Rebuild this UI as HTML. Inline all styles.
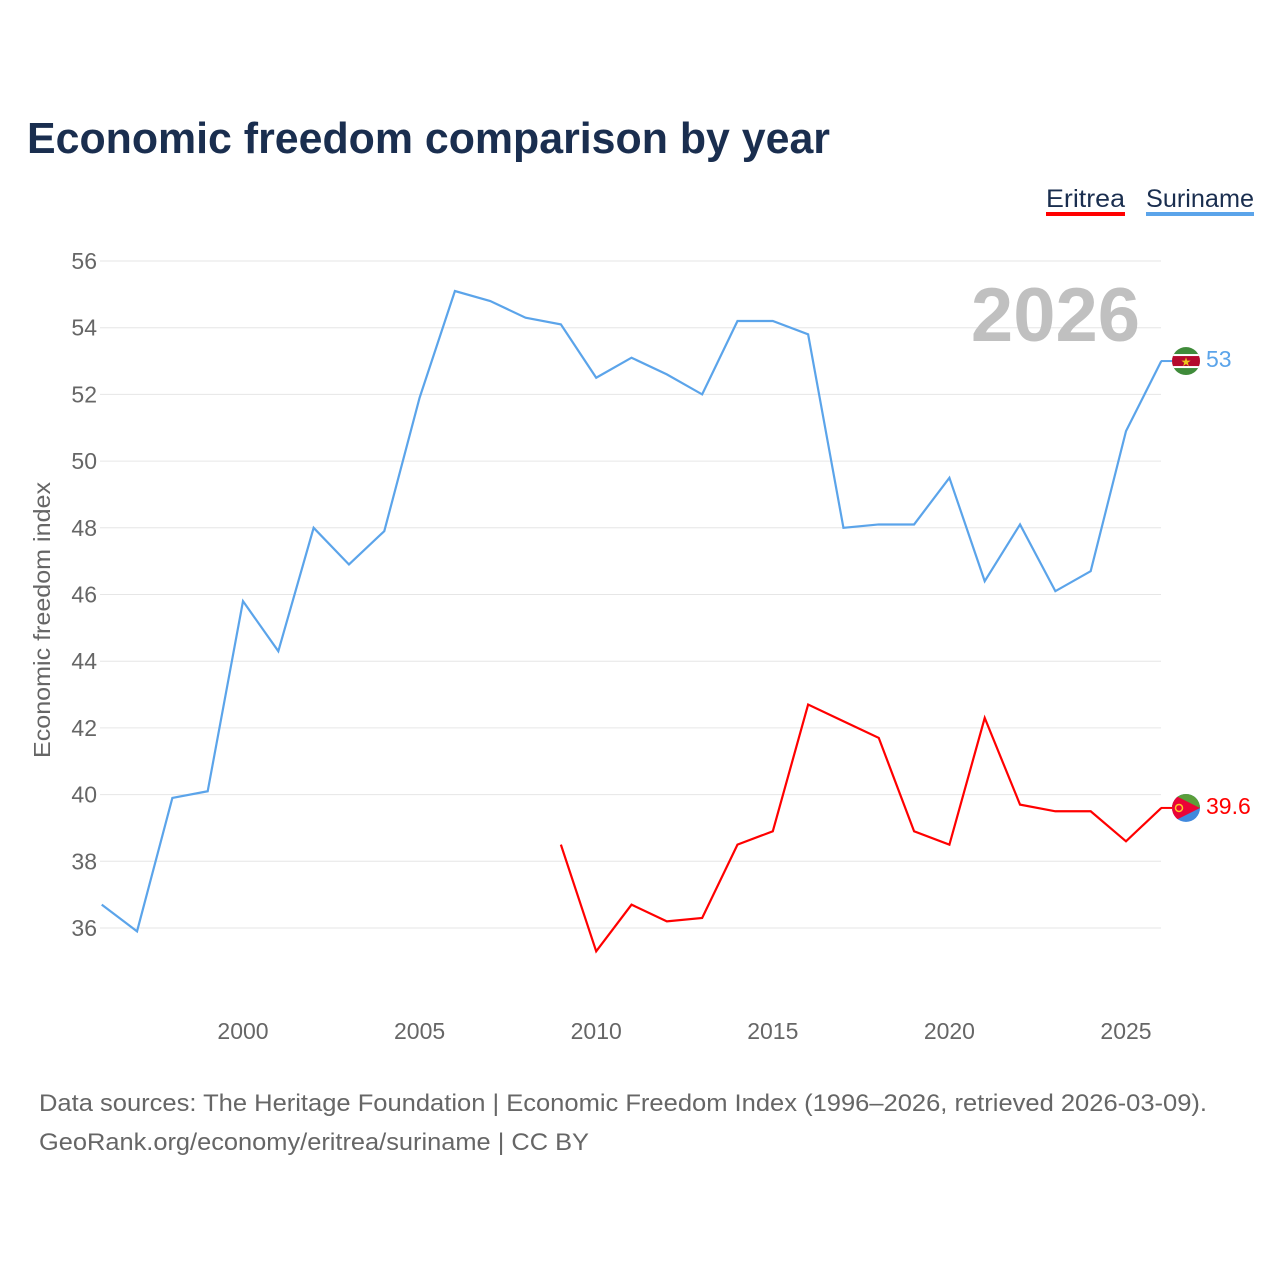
<!DOCTYPE html>
<html><head><meta charset="utf-8"><style>
body{margin:0;background:#fff;font-family:"Liberation Sans",sans-serif}
#wrap{position:relative;width:1280px;height:1280px}
</style></head><body>
<div id="wrap">
<svg id="chart" width="1280" height="1280"></svg>
</div>
<script>
const years=[1996,1997,1998,1999,2000,2001,2002,2003,2004,2005,2006,2007,2008,2009,2010,2011,2012,2013,2014,2015,2016,2017,2018,2019,2020,2021,2022,2023,2024,2025,2026];
const suriname=[36.7,35.9,39.9,40.1,45.8,44.3,48.0,46.9,47.9,51.9,55.1,54.8,54.3,54.1,52.5,53.1,52.6,52.0,54.2,54.2,53.8,48.0,48.1,48.1,49.5,46.4,48.1,46.1,46.7,50.9,53.0];
const eritreaYears=[2009,2010,2011,2012,2013,2014,2015,2016,2017,2018,2019,2020,2021,2022,2023,2024,2025,2026];
const eritrea=[38.5,35.3,36.7,36.2,36.3,38.5,38.9,42.7,42.2,41.7,38.9,38.5,42.3,39.7,39.5,39.5,38.6,39.6];
const yTicks=[36,38,40,42,44,46,48,50,52,54,56];
const xTicks=[2000,2005,2010,2015,2020,2025];

const NS="http://www.w3.org/2000/svg";
const svg=document.getElementById('chart');
const X=y=>243+(y-2000)*35.32;
const Y=v=>261+(56-v)*33.35;
function mk(tag,attrs,text,parent){const e=document.createElementNS(NS,tag);for(const k in attrs)e.setAttribute(k,attrs[k]);if(text!==undefined)e.textContent=text;(parent||svg).appendChild(e);return e;}

const defs=mk('defs',{});
const cp1=mk('clipPath',{id:'cs'},undefined,defs);
const cp2=mk('clipPath',{id:'ce'},undefined,defs);

let t=mk('text',{x:27,y:153,'font-size':44,'font-weight':'bold',fill:'#1a2e4f',textLength:803,lengthAdjust:'spacingAndGlyphs'},'Economic freedom comparison by year');



t=mk('text',{x:1046,y:207,'font-size':25,fill:'#1a2e4f',textLength:79,lengthAdjust:'spacingAndGlyphs'},'Eritrea');


mk('rect',{x:1046,y:212,width:79,height:4,fill:'#ff0000'});
t=mk('text',{x:1146,y:207,'font-size':25,fill:'#1a2e4f',textLength:108,lengthAdjust:'spacingAndGlyphs'},'Suriname');


mk('rect',{x:1146,y:212,width:108,height:4,fill:'#5ba4ea'});

yTicks.forEach(v=>{
  const l=mk('line',{x1:100,x2:1161,y1:Y(v),y2:Y(v),stroke:'#e6e6e6','stroke-width':1});
  
  
  const tx=mk('text',{x:97,y:Y(v)+8,'font-size':23,fill:'#666','text-anchor':'end'},v);
  
  
});
xTicks.forEach(v=>{
  const tx=mk('text',{x:X(v),y:1039,'font-size':23,fill:'#666','text-anchor':'middle'},v);
  
  
});
t=mk('text',{x:0,y:0,'font-size':23,fill:'#666','text-anchor':'middle',transform:'translate(50,620) rotate(-90)',textLength:276,lengthAdjust:'spacingAndGlyphs'},'Economic freedom index');



t=mk('text',{x:1140,y:341,'font-size':76,'font-weight':'bold',fill:'#c0c0c0','text-anchor':'end'},'2026');



let p=mk('polyline',{points:years.map((y,i)=>X(y)+','+Y(suriname[i])).join(' '),fill:'none',stroke:'#5ba4ea','stroke-width':2.2});


p=mk('polyline',{points:eritreaYears.map((y,i)=>X(y)+','+Y(eritrea[i])).join(' '),fill:'none',stroke:'#ff0000','stroke-width':2.2});



const sY=Y(suriname[suriname.length-1]), eY=Y(eritrea[eritrea.length-1]);
mk('circle',{cx:1186,cy:sY,r:14},undefined,cp1);
mk('circle',{cx:1186,cy:eY,r:14},undefined,cp2);

mk('line',{x1:1161,x2:1172,y1:sY,y2:sY,stroke:'#5ba4ea','stroke-width':2});
let g=mk('g',{'clip-path':'url(#cs)'});


mk('rect',{x:1172,y:sY-14,width:28,height:28,fill:'#3f8b3a'},undefined,g);
mk('rect',{x:1172,y:sY-7,width:28,height:14,fill:'#fff'},undefined,g);
mk('rect',{x:1172,y:sY-5,width:28,height:10,fill:'#b40a2d'},undefined,g);
mk('text',{x:1186,y:sY+5,'font-size':12,fill:'#ecc81d','text-anchor':'middle'},'★',g);
t=mk('text',{x:1206,y:sY+6,'font-size':23,fill:'#5ba4ea'},suriname[suriname.length-1]);



mk('line',{x1:1161,x2:1172,y1:eY,y2:eY,stroke:'#ff0000','stroke-width':2});
g=mk('g',{'clip-path':'url(#ce)'});


mk('rect',{x:1172,y:eY-14,width:28,height:28,fill:'#4189dd'},undefined,g);
mk('rect',{x:1172,y:eY-14,width:28,height:14,fill:'#5a9e3a'},undefined,g);
mk('path',{d:`M1172,${eY-14} L1200,${eY} L1172,${eY+14} Z`,fill:'#ea0437'},undefined,g);
mk('circle',{cx:1179,cy:eY,r:3.5,fill:'none',stroke:'#ffc726','stroke-width':1.5},undefined,g);
t=mk('text',{x:1206,y:eY+6,'font-size':23,fill:'#ff0000'},eritrea[eritrea.length-1]);



t=mk('text',{x:39,y:1111,'font-size':24,fill:'#666',textLength:1168,lengthAdjust:'spacingAndGlyphs'},'Data sources: The Heritage Foundation | Economic Freedom Index (1996–2026, retrieved 2026-03-09).');


t=mk('text',{x:39,y:1150,'font-size':24,fill:'#666',textLength:550,lengthAdjust:'spacingAndGlyphs'},'GeoRank.org/economy/eritrea/suriname | CC BY');


</script>
</body></html>
